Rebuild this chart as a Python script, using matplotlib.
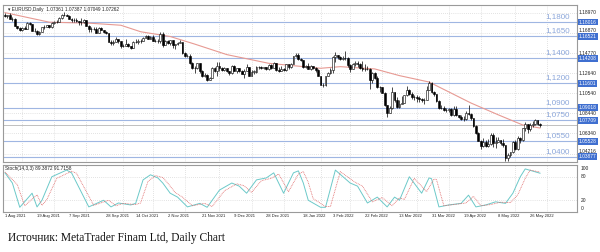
import matplotlib
matplotlib.use("Agg")
import matplotlib.pyplot as plt
import matplotlib.transforms as mtransforms
import numpy as np
import pandas as pd

# ---------------- data ----------------
aug_c = [1.1868, 1.1870, 1.1836, 1.1833, 1.1761, 1.1736, 1.1718, 1.1738, 1.1730, 1.1794, 1.1777, 1.1712, 1.1710, 1.1675, 1.1698, 1.1745, 1.1752, 1.1773, 1.1750, 1.1795, 1.1797, 1.1807]
aug_h = [1.1892, 1.1880, 1.1900, 1.1850, 1.1840, 1.1765, 1.1745, 1.1745, 1.1755, 1.1805, 1.1800, 1.1780, 1.1742, 1.1715, 1.1705, 1.1750, 1.1770, 1.1775, 1.1775, 1.1802, 1.1810, 1.1826]
aug_l = [1.1855, 1.1845, 1.1830, 1.1815, 1.1755, 1.1725, 1.1706, 1.1705, 1.1725, 1.1725, 1.1770, 1.1705, 1.1695, 1.1664, 1.1665, 1.1695, 1.1730, 1.1745, 1.1740, 1.1735, 1.1780, 1.1790]
sep_c = [1.1841, 1.1874, 1.1880, 1.1869, 1.1837, 1.1818, 1.1826, 1.1813, 1.1806, 1.1805, 1.1818, 1.1765, 1.1725, 1.1728, 1.1725, 1.1690, 1.1739, 1.1720, 1.1697, 1.1682, 1.1597, 1.1579]
sep_h = [1.1857, 1.1885, 1.1909, 1.1885, 1.1875, 1.1845, 1.1845, 1.1845, 1.1815, 1.1845, 1.1830, 1.1820, 1.1775, 1.1745, 1.1750, 1.1750, 1.1750, 1.1750, 1.1710, 1.1705, 1.1685, 1.1610]
sep_l = [1.1800, 1.1835, 1.1860, 1.1860, 1.1830, 1.1805, 1.1805, 1.1805, 1.1770, 1.1770, 1.1790, 1.1760, 1.1700, 1.1700, 1.1715, 1.1685, 1.1685, 1.1715, 1.1685, 1.1675, 1.1590, 1.1565]
oct_c = [1.1595, 1.1622, 1.1598, 1.1555, 1.1553, 1.1571, 1.1552, 1.1530, 1.1594, 1.1597, 1.1600, 1.1608, 1.1634, 1.1654, 1.1622, 1.1644, 1.1608, 1.1599, 1.1603, 1.1680, 1.1558]
oct_h = [1.1615, 1.1640, 1.1625, 1.1600, 1.1575, 1.1620, 1.1580, 1.1555, 1.1600, 1.1625, 1.1625, 1.1620, 1.1640, 1.1665, 1.1668, 1.1650, 1.1665, 1.1625, 1.1620, 1.1692, 1.1692]
oct_l = [1.1565, 1.1590, 1.1585, 1.1530, 1.1545, 1.1560, 1.1545, 1.1524, 1.1525, 1.1585, 1.1570, 1.1585, 1.1600, 1.1630, 1.1620, 1.1620, 1.1600, 1.1590, 1.1580, 1.1585, 1.1535]
nov_c = [1.1607, 1.1580, 1.1613, 1.1556, 1.1567, 1.1587, 1.1592, 1.1479, 1.1446, 1.1446, 1.1368, 1.1320, 1.1320, 1.1370, 1.1288, 1.1237, 1.1250, 1.1199, 1.1210, 1.1318, 1.1291, 1.1338]
nov_h = [1.1615, 1.1615, 1.1615, 1.1615, 1.1575, 1.1595, 1.1615, 1.1595, 1.1485, 1.1465, 1.1465, 1.1385, 1.1345, 1.1375, 1.1375, 1.1295, 1.1265, 1.1255, 1.1230, 1.1330, 1.1335, 1.1385]
nov_l = [1.1565, 1.1575, 1.1565, 1.1530, 1.1515, 1.1560, 1.1585, 1.1465, 1.1435, 1.1435, 1.1360, 1.1305, 1.1265, 1.1310, 1.1265, 1.1225, 1.1225, 1.1186, 1.1195, 1.1210, 1.1275, 1.1235]
dec_c = [1.1321, 1.1302, 1.1315, 1.1285, 1.1265, 1.1345, 1.1290, 1.1316, 1.1285, 1.1258, 1.1287, 1.1331, 1.1240, 1.1282, 1.1283, 1.1327, 1.1330, 1.1320, 1.1327, 1.1310, 1.1350, 1.1322, 1.1370]
dec_h = [1.1383, 1.1335, 1.1330, 1.1300, 1.1290, 1.1355, 1.1355, 1.1320, 1.1320, 1.1300, 1.1305, 1.1360, 1.1335, 1.1300, 1.1300, 1.1340, 1.1345, 1.1345, 1.1335, 1.1335, 1.1365, 1.1360, 1.1385]
dec_l = [1.1290, 1.1290, 1.1285, 1.1275, 1.1250, 1.1260, 1.1285, 1.1265, 1.1275, 1.1255, 1.1220, 1.1285, 1.1235, 1.1235, 1.1260, 1.1270, 1.1310, 1.1310, 1.1310, 1.1300, 1.1300, 1.1310, 1.1315]
jan_c = [1.1296, 1.1287, 1.1313, 1.1295, 1.1359, 1.1326, 1.1366, 1.1442, 1.1455, 1.1413, 1.1403, 1.1326, 1.1343, 1.1312, 1.1343, 1.1325, 1.1302, 1.1241, 1.1144, 1.1146, 1.1233]
jan_h = [1.1375, 1.1330, 1.1345, 1.1320, 1.1365, 1.1365, 1.1375, 1.1450, 1.1480, 1.1482, 1.1420, 1.1405, 1.1350, 1.1370, 1.1350, 1.1345, 1.1335, 1.1310, 1.1240, 1.1165, 1.1240]
jan_l = [1.1285, 1.1275, 1.1285, 1.1285, 1.1290, 1.1310, 1.1315, 1.1360, 1.1435, 1.1405, 1.1395, 1.1320, 1.1315, 1.1305, 1.1300, 1.1305, 1.1280, 1.1235, 1.1140, 1.1121, 1.1135]
feb_c = [1.1270, 1.1303, 1.1437, 1.1452, 1.1440, 1.1418, 1.1423, 1.1425, 1.1349, 1.1305, 1.1357, 1.1375, 1.1362, 1.1322, 1.1308, 1.1309, 1.1309, 1.1190, 1.1271, 1.1218]
feb_h = [1.1280, 1.1315, 1.1450, 1.1485, 1.1450, 1.1450, 1.1445, 1.1495, 1.1430, 1.1360, 1.1370, 1.1395, 1.1390, 1.1375, 1.1395, 1.1365, 1.1345, 1.1320, 1.1275, 1.1275]
feb_l = [1.1235, 1.1260, 1.1265, 1.1385, 1.1410, 1.1405, 1.1405, 1.1405, 1.1335, 1.1280, 1.1305, 1.1345, 1.1335, 1.1305, 1.1285, 1.1285, 1.1295, 1.1105, 1.1160, 1.1200]
mar_c = [1.1124, 1.1119, 1.1063, 1.0929, 1.0853, 1.0901, 1.1073, 1.0986, 1.0911, 1.0943, 1.0956, 1.1036, 1.1093, 1.1051, 1.1016, 1.1017, 1.1003, 1.0997, 1.0985, 1.0985, 1.1088, 1.1158, 1.1067]
mar_h = [1.1235, 1.1130, 1.1125, 1.1065, 1.0935, 1.0920, 1.1120, 1.1070, 1.1015, 1.0985, 1.1025, 1.1040, 1.1135, 1.1100, 1.1070, 1.1040, 1.1035, 1.1025, 1.1010, 1.1005, 1.1135, 1.1185, 1.1170]
mar_l = [1.1110, 1.1070, 1.1055, 1.0920, 1.0806, 1.0850, 1.0895, 1.0965, 1.0900, 1.0900, 1.0945, 1.0955, 1.1030, 1.1040, 1.1000, 1.0985, 1.0965, 1.0965, 1.0960, 1.0945, 1.0980, 1.1085, 1.1060]
apr_c = [1.1045, 1.0972, 1.0904, 1.0900, 1.0880, 1.0875, 1.0886, 1.0830, 1.0890, 1.0826, 1.0810, 1.0782, 1.0788, 1.0853, 1.0837, 1.0796, 1.0715, 1.0640, 1.0560, 1.0499, 1.0545]
apr_h = [1.1075, 1.1050, 1.0980, 1.0935, 1.0925, 1.0900, 1.0905, 1.0905, 1.0925, 1.0925, 1.0830, 1.0830, 1.0815, 1.0865, 1.0935, 1.0850, 1.0795, 1.0720, 1.0650, 1.0565, 1.0590]
apr_l = [1.1030, 1.0965, 1.0895, 1.0890, 1.0870, 1.0860, 1.0860, 1.0820, 1.0820, 1.0815, 1.0800, 1.0775, 1.0760, 1.0780, 1.0825, 1.0780, 1.0700, 1.0630, 1.0555, 1.0471, 1.0490]
may_c = [1.0504, 1.0523, 1.0621, 1.0539, 1.0549, 1.0563, 1.0529, 1.0512, 1.0381, 1.0411, 1.0435, 1.0548, 1.0466, 1.0585, 1.0563, 1.0689, 1.0733, 1.0677, 1.0725, 1.0733, 1.0779, 1.0733, 1.0726]
may_h = [1.0565, 1.0575, 1.0640, 1.0640, 1.0595, 1.0595, 1.0560, 1.0575, 1.0515, 1.0425, 1.0445, 1.0560, 1.0565, 1.0605, 1.0595, 1.0695, 1.0750, 1.0735, 1.0740, 1.0765, 1.0787, 1.0775, 1.0739]
may_l = [1.0490, 1.0490, 1.0510, 1.0495, 1.0485, 1.0540, 1.0510, 1.0495, 1.0350, 1.0350, 1.0390, 1.0430, 1.0460, 1.0460, 1.0535, 1.0555, 1.0660, 1.0640, 1.0660, 1.0700, 1.0725, 1.0725, 1.0705]
first_open = 1.1870

closes = aug_c + sep_c + oct_c + nov_c + dec_c + jan_c + feb_c + mar_c + apr_c + may_c
highs = aug_h + sep_h + oct_h + nov_h + dec_h + jan_h + feb_h + mar_h + apr_h + may_h
lows = aug_l + sep_l + oct_l + nov_l + dec_l + jan_l + feb_l + mar_l + apr_l + may_l

# moving average (red line), read at anchor bars
ma_idx = [0, 18, 34, 47, 55, 67, 77, 90, 107, 128, 136, 150, 160, 172, 189, 200, 210, 217]
ma_val = [1.1900, 1.1800, 1.1790, 1.1768, 1.1700, 1.1650, 1.1570, 1.1460, 1.1369, 1.1317,
          1.1334, 1.1310, 1.1240, 1.1173, 1.0953, 1.0830, 1.0723, 1.0691]

# stochastic main / signal, read at anchor bars
k_idx = [0, 3, 6, 11, 13, 15, 19, 25, 27, 34, 40, 43, 46, 51, 53, 56, 59, 62, 64, 67, 70, 74, 79, 82, 87,
         92, 95, 98, 102, 106, 109, 113, 117, 119, 121, 123, 128, 130, 134, 140, 143, 147, 151, 155, 158,
         160, 164, 169, 172, 173, 176, 180, 185, 188, 191, 195, 199, 203, 206, 209, 211, 217]
k_val = [90, 64, 2, 38, 3, 20, 80, 97, 90, 3, 20, 3, 13, 8, 12, 72, 85, 77, 64, 38, 28, 3, 12, 2, 46,
         64, 56, 38, 72, 77, 90, 38, 90, 95, 64, 20, 2, 2, 97, 64, 56, 13, 28, 3, 28,
         20, 80, 38, 77, 75, 3, 8, 12, 33, 3, 8, 16, 12, 38, 80, 100, 89]
d_idx = [0, 5, 8, 13, 15, 17, 21, 27, 29, 36, 42, 45, 48, 53, 55, 58, 61, 64, 66, 69, 72, 76, 81, 84, 89,
         94, 97, 100, 104, 108, 111, 115, 119, 121, 123, 125, 130, 132, 136, 142, 145, 149, 153, 157, 160,
         162, 166, 171, 174, 175, 178, 182, 187, 190, 193, 197, 201, 205, 208, 211, 213, 217]
d_val = [92, 60, 6, 34, 7, 22, 76, 94, 89, 7, 20, 6, 12, 9, 13, 68, 83, 78, 64, 40, 28, 6, 12, 4, 44,
         62, 57, 40, 70, 76, 87, 42, 87, 93, 66, 24, 4, 4, 93, 66, 56, 16, 27, 6, 26,
         22, 76, 42, 74, 73, 6, 9, 13, 30, 6, 9, 15, 14, 34, 76, 97, 92]

level_vals = [1.18016, 1.16521, 1.14208, 1.11601, 1.09018, 1.07709, 1.05528, 1.03877]
level_text = ["1,1800", "1,1650", "1,1400", "1,1200", "1,0900", "1,0750", "1,0550", "1,0400"]
bid_price = 1.07262
price_ticks = [1.18970, 1.16870, 1.14770, 1.12640, 1.10540, 1.08440, 1.06340, 1.04216]
stoch_ticks = [100, 80, 20, 0]
date_labels = ["1 Aug 2021", "19 Aug 2021", "7 Sep 2021", "28 Sep 2021", "14 Oct 2021", "2 Nov 2021",
               "21 Nov 2021", "9 Dec 2021", "28 Dec 2021", "18 Jan 2022", "3 Feb 2022", "22 Feb 2022",
               "13 Mar 2022", "31 Mar 2022", "19 Apr 2022", "8 May 2022", "26 May 2022"]
header = "\u25BE EURUSD,Daily  1.07361 1.07387 1.07049 1.07262"
stoch_header = "Stoch(14,3,3) 89.3872 91.7158"
caption = "Источник: MetaTrader Finam Ltd, Daily Chart"

# ---------------- figure ----------------
dates = pd.bdate_range("2021-08-02", "2022-06-01")
n = len(closes)
assert n == len(highs) == len(lows) == len(dates), (n, len(highs), len(lows), len(dates))

SMALL = ["Liberation Sans", "DejaVu Sans"]
W, H = 600, 252
def rect(x0, y0, x1, y1):
    return [x0 / W, 1 - y1 / H, (x1 - x0) / W, (y1 - y0) / H]

fig = plt.figure(figsize=(6, 2.52), dpi=100)
fig.patch.set_facecolor("white")
ax = fig.add_axes(rect(3, 5, 577, 162))
ax2 = fig.add_axes(rect(3, 165, 577, 212))

x = np.arange(n)
c = np.array(closes)
o = np.array([first_open] + closes[:-1])
h = np.maximum(np.array(highs), np.maximum(o, c))
l = np.minimum(np.array(lows), np.minimum(o, c))
up = c >= o

xlim = (-0.8, 232)
for a in (ax, ax2):
    a.set_xlim(*xlim)
    a.set_xticks([])
    a.set_yticks([])
    for s in a.spines.values():
        s.set_color("#9a9a9a")
        s.set_linewidth(0.8)

ax.set_ylim(1.0335, 1.1980)
ax2.set_ylim(-10, 110)

grid_kw = dict(color="#c9c9c9", lw=0.5, ls=(0, (1, 2)), zorder=0)
date_pos = [int(dates.searchsorted(pd.Timestamp(d))) for d in date_labels]
for p in date_pos:
    ax.axvline(p + 7, **grid_kw)
    ax2.axvline(p + 7, **grid_kw)
for t in price_ticks:
    ax.axhline(t, **grid_kw)
for t in (80, 20):
    ax2.axhline(t, **grid_kw)

# levels
blue_line = "#9fb6e2"
blue_box = "#3f6fd0"
blue_text = "#8ba6da"
tr_r = mtransforms.blended_transform_factory(ax.transAxes, ax.transData)
for v, t in zip(level_vals, level_text):
    ax.axhline(v, color=blue_line, lw=0.8, zorder=1)
    ax.text(0.988, v, t, transform=tr_r + mtransforms.ScaledTranslation(0, 1.5 / 72, fig.dpi_scale_trans),
            ha="right", va="bottom", fontsize=5.8, color=blue_text, family="Liberation Sans")
ax.axhline(bid_price, color="#b5b5b5", lw=0.6, zorder=1)

# right price labels (lifted above a level box when the two are close)
for t in price_ticks:
    near = min(abs(t - v) for v in level_vals) < 0.005
    ax.text(1.003, t, f"{t:.5f}", transform=tr_r, ha="left", va="bottom" if near else "center",
            fontsize=3.5, color="#222222", clip_on=False, family=SMALL)
for v in level_vals:
    ax.text(1.003, v, f"{v:.5f}", transform=tr_r, ha="left", va="center", fontsize=3.5,
            color="white", clip_on=False, family=SMALL,
            bbox=dict(boxstyle="square,pad=0.2", fc=blue_box, ec="none"))

# candles
ax.vlines(x, l, h, color="black", lw=0.5, zorder=3)
body_b = np.minimum(o, c)
body_h = np.maximum(np.abs(c - o), 0.00015)
ax.bar(x[up], body_h[up], bottom=body_b[up], width=0.75, facecolor="white", edgecolor="black",
       linewidth=0.4, zorder=4)
ax.bar(x[~up], body_h[~up], bottom=body_b[~up], width=0.75, facecolor="black", edgecolor="black",
       linewidth=0.4, zorder=4)

# moving average
ax.plot(ma_idx, ma_val, color="#e79a93", lw=0.8, zorder=2)

ax.text(0.008, 0.985, header, transform=ax.transAxes, ha="left", va="top", fontsize=3.4,
        color="#222222", family=SMALL)

# stochastic
ax2.plot(k_idx, k_val, color="#6cc9c9", lw=0.7, zorder=3)
ax2.plot(d_idx, d_val, color="#e06a6a", lw=0.6, ls=(0, (1, 1)), zorder=3)
ax2.text(0.004, 0.97, stoch_header, transform=ax2.transAxes, ha="left", va="top", fontsize=3.4,
         color="#222222", family=SMALL)
tr2 = mtransforms.blended_transform_factory(ax2.transAxes, ax2.transData)
for t in stoch_ticks:
    ax2.text(1.006, t, str(t), transform=tr2, ha="left", va="center", fontsize=3.5, color="#222222",
             clip_on=False, family=SMALL)

trd = mtransforms.blended_transform_factory(ax2.transData, ax2.transAxes)
for p, lab in zip(date_pos, date_labels):
    ax2.text(p, -0.05, lab, transform=trd, ha="left", va="top", fontsize=3.0, color="#222222",
             clip_on=False, family=SMALL)

fig.text(8 / W, 1 - 238 / H, caption, ha="left", va="center", fontsize=8.3,
         family="Liberation Serif", color="#111111")

fig.savefig("out.png", dpi=100, facecolor="white")
